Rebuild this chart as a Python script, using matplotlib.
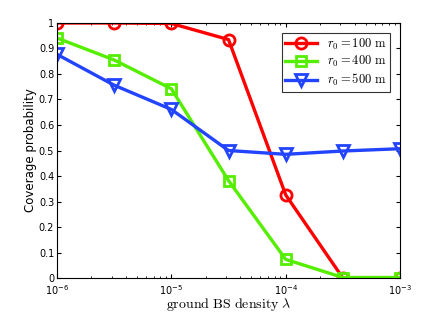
import matplotlib
matplotlib.use("Agg")
import matplotlib.pyplot as plt
import numpy as np
from matplotlib.ticker import LogLocator, NullFormatter

plt.rcParams["mathtext.fontset"] = "cm"

density = [1e-6, 10 ** -5.5, 1e-5, 10 ** -4.5, 1e-4, 10 ** -3.5, 1e-3]
cov_r100 = [1.0, 1.0, 0.998, 0.935, 0.326, 0.0, 0.0]
cov_r400 = [0.941, 0.855, 0.742, 0.382, 0.073, 0.002, 0.002]
cov_r500 = [0.877, 0.756, 0.661, 0.500, 0.485, 0.498, 0.507]
labels = [r"$r_0 = 100\ \mathrm{m}$", r"$r_0 = 400\ \mathrm{m}$", r"$r_0 = 500\ \mathrm{m}$"]
y_ticks = [0, 0.1, 0.2, 0.3, 0.4, 0.5, 0.6, 0.7, 0.8, 0.9, 1]

fig = plt.figure(figsize=(4.43, 3.14), dpi=100)
ax = fig.add_axes([0.1287, 0.1146, 0.7743, 0.8122])

ax.plot(density, cov_r100, color="#ff0000", lw=2.4, marker="o", ms=8,
        mfc="none", mew=2, label=labels[0])
ax.plot(density, cov_r400, color="#55ee00", lw=2.4, marker="s", ms=7.5,
        mfc="none", mew=2, label=labels[1])
ax.plot(density, cov_r500, color="#2244ff", lw=2.4, marker="v", ms=9,
        mfc="none", mew=2, label=labels[2])

ax.set_xscale("log")
ax.set_xlim(1e-6, 1e-3)
ax.set_ylim(0, 1)
ax.set_yticks(y_ticks)
ax.set_yticklabels([f"{t:g}" for t in y_ticks])
ax.xaxis.set_minor_locator(LogLocator(base=10, subs=np.arange(2, 10)))
ax.xaxis.set_minor_formatter(NullFormatter())
ax.tick_params(which="both", direction="in", top=True, right=True, labelsize=7)
ax.tick_params(which="major", length=3)
ax.tick_params(axis="y", which="major", pad=2)
ax.tick_params(axis="x", which="major", pad=4)
ax.tick_params(which="minor", length=1.5)

ax.set_xlabel(r"$\mathrm{ground\ BS\ density}\ \lambda$", fontsize=10, labelpad=-1)
ax.set_ylabel("Coverage probability", fontsize=8.5)
ax.yaxis.set_label_coords(-0.058, 0.5)

leg = ax.legend(loc="upper right", fontsize=9, frameon=True, fancybox=False,
                edgecolor="black", borderaxespad=0.8, handlelength=2.5,
                borderpad=0.3, labelspacing=0.2)
leg.get_frame().set_linewidth(0.8)

fig.savefig("out.png", dpi=100)
